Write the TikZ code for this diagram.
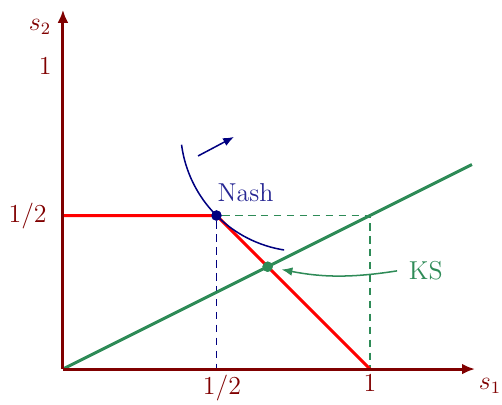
\documentclass[tikz,border=0pt]{standalone}
\usetikzlibrary{arrows.meta,positioning,calc}
\definecolor{AxisRed}{RGB}{128,0,0}
\definecolor{KSgreen}{RGB}{46,139,87}
\definecolor{NashBlue}{RGB}{0,0,128}
\tikzset{
  bg/axis/.style={line width=1.4pt, AxisRed, -{Latex[length=6pt,width=5pt]}},
  bg/tick/.style={text=AxisRed, inner sep=1pt, font=\large},
  bg/frontier/.style={line width=1.4pt, red},
  bg/ksline/.style={line width=1.4pt, KSgreen},
  bg/guide/.style={line width=0.8pt, dash pattern=on 3.5pt off 2.5pt},
  bg/dot/.style={circle, fill, inner sep=0pt, minimum size=4.8pt},
  bg/curve/.style={line width=0.7pt, NashBlue},
  bg/arr/.style={line width=0.7pt, -{Latex[length=5pt,width=4pt]}}
}

\begin{document}
\begin{tikzpicture}[x=5cm,y=5cm]
  \useasboundingbox (-0.205,-0.114) rectangle (1.430,1.202);
  % axes
  \coordinate (O) at (0,0);
  \coordinate (xend) at (1.342,0);
  \coordinate (yend) at (0,1.17);
  \coordinate (half) at (0,0.5);
  \coordinate (one) at (1,0);
  \coordinate (halfx) at (0.5,0);
  \coordinate (corner) at (1,0.5);
  \coordinate (ksend) at (1.332,0.666);
  \node[bg/dot, NashBlue] (nash) at (0.5,0.5) {};
  \node[bg/dot, KSgreen] (ks) at (2/3,1/3) {};
  % guides
  \draw[bg/guide, NashBlue] (nash) -- (halfx);
  \draw[bg/guide, KSgreen] (nash) -- (corner) -- (one);
  % frontier and KS ray
  \draw[bg/frontier] (half) -- (nash.center) -- (one);
  \draw[bg/ksline] (O) -- (ksend);
  \draw[bg/axis] (O) -- (xend);
  \draw[bg/axis] (O) -- (yend);
  \node[bg/dot, NashBlue] at (nash) {};
  \node[bg/dot, KSgreen] at (ks) {};
  % Nash level curve
  \draw[bg/curve] (nash.center) arc[start angle=225, end angle=187.5, radius=0.4]
                  (nash.center) arc[start angle=225, end angle=261, radius=0.4];
  \coordinate (nasharrA) at (0.44,0.694);
  \coordinate (nasharrB) at (0.557,0.756);
  \draw[bg/arr, NashBlue] (nasharrA) -- (nasharrB);
  \node[text=NashBlue!85!white, font=\large, anchor=center] (nashlabel) at (0.595,0.575) {Nash};
  % KS label
  \node[text=KSgreen, font=\large, anchor=center] (kslabel) at (1.182,0.322) {KS};
  \draw[bg/arr, KSgreen, shorten <=2pt, shorten >=4pt] (kslabel.west) to[bend left=10] (ks);
  % labels
  \node[bg/tick] (lx) at (1.391,-0.055) {$s_1$};
  \node[bg/tick] (ly) at (-0.075,1.114) {$s_2$};
  \node[bg/tick] (l1y) at (-0.058,0.985) {$1$};
  \node[bg/tick] (lhy) at (-0.115,0.5) {$1/2$};
  \node[bg/tick] (lhx) at (0.518,-0.062) {$1/2$};
  \node[bg/tick] (l1x) at (1,-0.046) {$1$};
\end{tikzpicture}
\end{document}
